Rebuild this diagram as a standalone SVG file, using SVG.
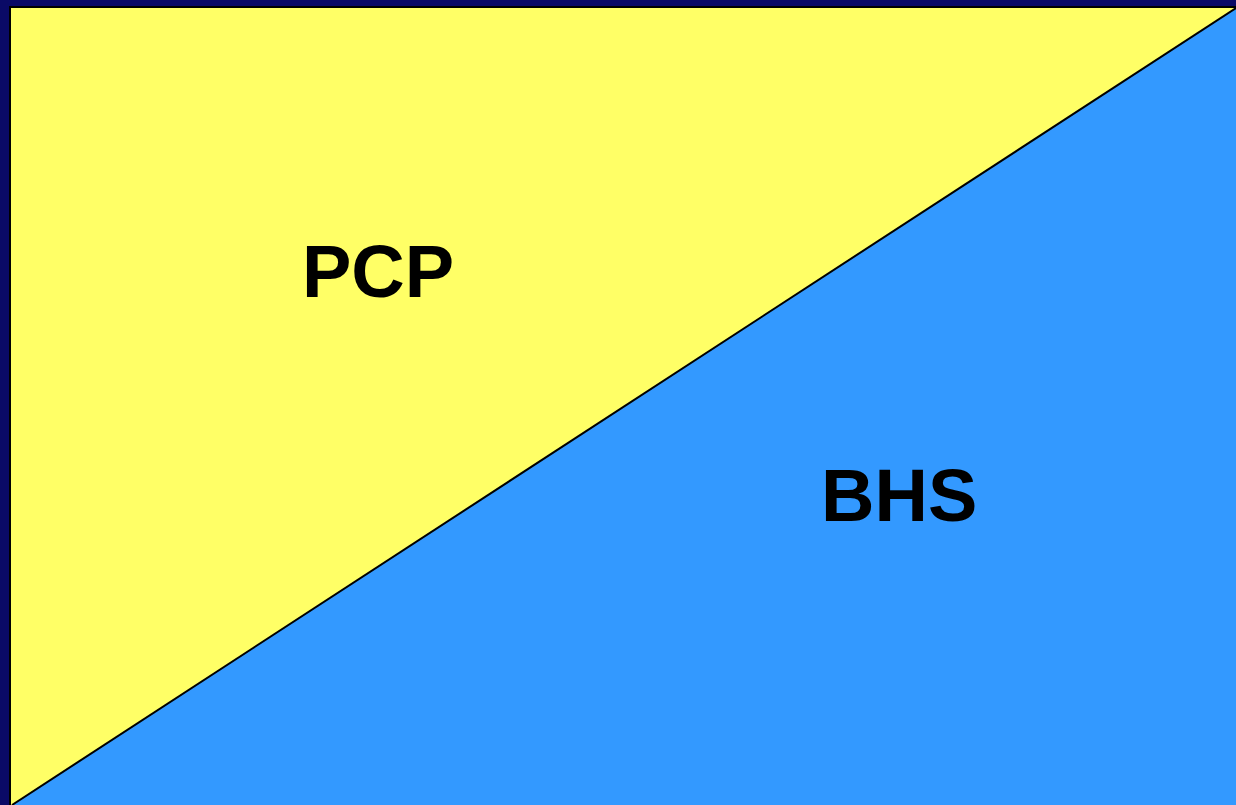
<svg xmlns="http://www.w3.org/2000/svg" width="1236" height="805" viewBox="0 0 1236 805">
<style>
.lbl{font-family:"Liberation Sans",Arial,sans-serif;font-weight:bold;font-size:74px;fill:#000}
</style>
<rect x="0" y="0" width="1236" height="805" fill="#0A0A66"/>
<rect x="9" y="6" width="1227" height="799" fill="#000"/>
<rect x="11" y="8" width="1225" height="797" fill="#FFFF66"/>
<polygon points="12,805 1236,8 1236,805" fill="#3399FF"/>
<g id="connectors">
<line x1="12" y1="805" x2="1236" y2="8" stroke="#000" stroke-width="2"/>
</g>
<g id="pcp"><text class="lbl" x="302" y="297">PCP</text></g>
<g id="bhs"><text class="lbl" x="821" y="521">BHS</text></g>
</svg>
